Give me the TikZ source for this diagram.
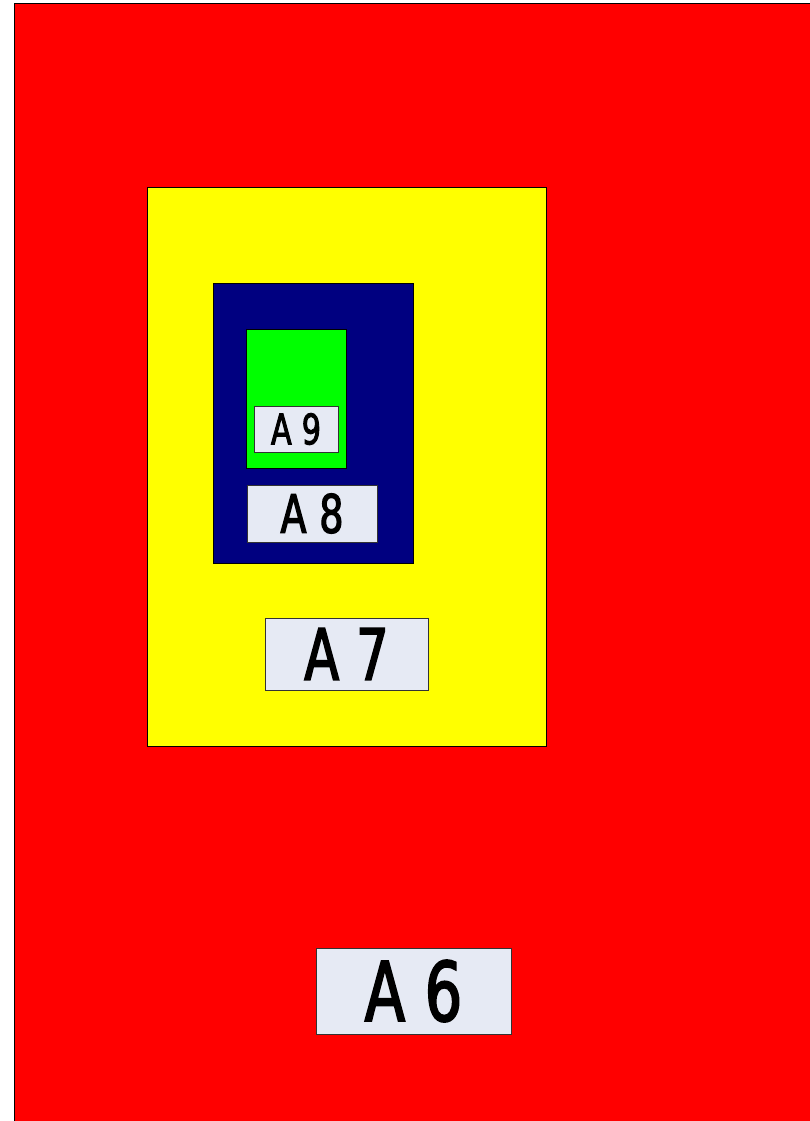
\documentclass[tikz,border=0pt]{standalone}
\usepackage{fontspec}
\newfontfamily\platefont[LetterSpace=24, FakeStretch=0.72, FakeBold=2.2]{DejaVu Sans}
\usetikzlibrary{positioning}
\definecolor{Zone}{HTML}{FF0000}
\definecolor{Hall}{HTML}{FFFF00}
\definecolor{Room}{HTML}{000080}
\definecolor{Cell}{HTML}{00FF00}
\definecolor{Plate}{HTML}{E6EAF4}
\tikzset{
    area/.style={draw=black, line width=0.8pt},
    plate/.style={rectangle, draw=black!80, line width=0.6pt, fill=Plate, text=black, inner sep=0pt, align=center},
}
\begin{document}
\begin{tikzpicture}[x=1pt, y=-1pt]
    \useasboundingbox (0,0) rectangle (809,1121);
    % nested areas
    \draw[area, fill=Zone] (14,3) rectangle (812,1124);
    \draw[area, fill=Hall] (147,187) rectangle (546,746);
    \draw[area, fill=Room] (213,283) rectangle (413,563);
    \draw[area, fill=Cell] (246,329) rectangle (346,468);

    % labels
    \node[plate, minimum width=195pt, minimum height=86pt, font=\platefont\fontsize{82}{90}\selectfont] (a6) at (413.5,991) {A6};
    \node[plate, minimum width=163pt, minimum height=72pt, font=\platefont\fontsize{71}{78}\selectfont] (a7) at (346.5,654) {A7};
    \node[plate, minimum width=130pt, minimum height=57pt, font=\platefont\fontsize{53}{58}\selectfont] (a8) at (312,513.5) {A8};
    \node[plate, minimum width=84pt, minimum height=46pt, font=\platefont\fontsize{42}{46}\selectfont] (a9) at (296,429) {A9};
\end{tikzpicture}
\end{document}
